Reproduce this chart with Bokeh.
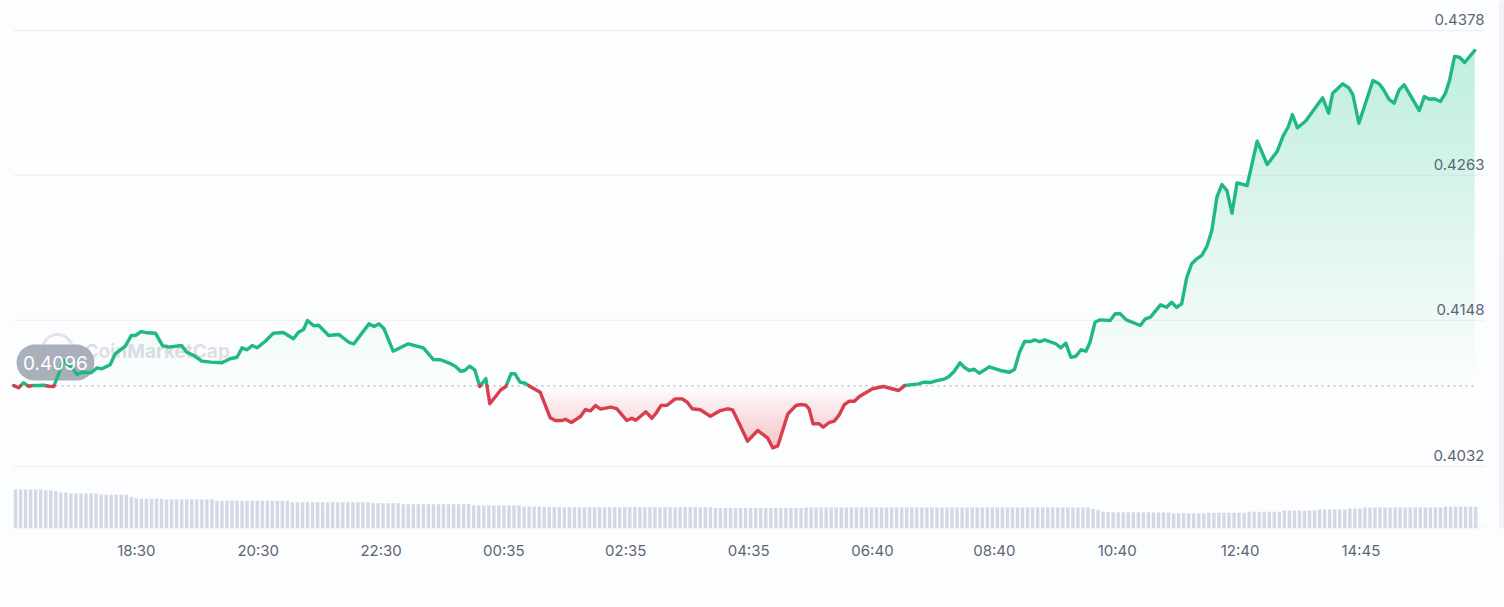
import numpy as np
from bokeh.embed import file_html
from bokeh.resources import INLINE
from bokeh.plotting import figure
from bokeh.models import Range1d, FixedTicker, BoxAnnotation
from bokeh.core.properties import value

# ---- data ----------------------------------------------------------------
minutes = [0,5,10,15,20,25,30,35,40,50,58,63,68,77,83,88,96,101,111,117,121,127,133,141,148,154,167,172,179,187,196,207,215,222,
           227,232,237,242,250,258,268,278,283,288,292,298,303,313,323,333,338,353,358,363,368,377,392,407,417,424,432,439,444,448,453,458,463,469,473,
           484,489,494,498,503,508,513,523,533,538,545,548,554,563,568,573,578,583,593,599,609,614,618,628,634,638,643,649,657,664,669,674,682,692,702,709,714,720,729,739,749,754,759,769,777,782,787,790,794,800,804,810,815,820,825,830,835,840,853,864,879,885,
           899,904,911,916,924,929,934,940,944,949,954,959,969,980,989,994,999,1004,1010,1014,1019,1024,1035,1040,1045,1050,1055,1060,1065,1069,1074,1079,1089,
           1094,1099,1105,1119,1124,1129,1139,1145,1150,1155,1160,1165,1170,1175,1180,1185,1190,1195,1200,1205,1210,1215,1225,1235,1245,1255,1261,1266,1270,1275,1283,1300,1306,1310,1320,1326,1330,1336,1350,1356,1360,1366,1371,1376,1381,1396,1401,1406,1411,1417,1422,1426,1431,1436,1441,1446,1451]
prices = [.40963,.40945,.40984,.40957,.40963,.40963,.40965,.40957,.40955,.41161,.41108,.41050,.41068,.41064,.41103,.41095,.41127,.41214,.41275,.41360,.41360,.41391,.41381,.41378,.41280,.41267,.41280,.41227,.41201,.41156,.41148,.41143,.41175,.41187,
          .41262,.41246,.41280,.41262,.41314,.41378,.41383,.41334,.41386,.41407,.41479,.41437,.41441,.41360,.41368,.41306,.41294,.41452,.41431,.41452,.41413,.41235,.41294,.41262,.41169,.41167,.41143,.41114,.41076,.41082,.41116,.41087,.40955,.41017,.40818,
          .40929,.40955,.41056,.41056,.40989,.40981,.40955,.40910,.40706,.40685,.40685,.40695,.40669,.40717,.40772,.40762,.40804,.40775,.40791,.40780,.40685,.40703,.40687,.40754,.40703,.40743,.40804,.40806,.40857,.40857,.40830,.40778,.40770,.40719,.40764,.40778,.40770,.40672,.40521,.40606,.40545,.40468,.40484,.40738,.40804,.40812,.40806,.40778,.40659,.40659,.40632,.40669,.40680,.40730,.40810,.40838,.40838,.40876,.40937,.40955,.40923,.40963,
          .40976,.40989,.40987,.41000,.41013,.41034,.41074,.41143,.41108,.41082,.41092,.41060,.41111,.41082,.41068,.41090,.41227,.41312,.41312,.41325,.41310,.41325,.41294,.41262,.41299,.41187,.41195,.41246,.41235,.41306,.41465,.41484,.41479,
          .41532,.41532,.41484,.41439,.41492,.41505,.41603,.41584,.41624,.41584,.41611,.41818,.41929,.41968,.41995,.42066,.42193,.42457,.42558,.42510,.42330,.42571,.42550,.42902,.42717,.42822,.42947,.43018,.43113,.43008,.43060,.43246,.43124,.43283,.43357,.43325,.43272,.43044,.43383,.43357,.43317,.43233,.43203,.43309,.43349,.43145,.43256,.43235,.43238,.43217,.43283,.43383,.43574,.43568,.43526,.43574,.43621]

base_price = 0.4096
base_label = "0.4096"
y_tick_prices = [0.4378, 0.4263, 0.4148, 0.4032]
y_tick_labels = ["0.4378", "0.4263", "0.4148", "0.4032"]
x_tick_minutes = [122, 243, 365, 487, 608, 730, 853, 974, 1096, 1218, 1338]
x_tick_labels = ["18:30", "20:30", "22:30", "00:35", "02:35", "04:35", "06:40", "08:40", "10:40", "12:40", "14:45"]

# relative volume, as runs of equal-looking bars (level, count)
volume_levels = [39, 38.3, 37.3, 36, 35, 33.7, 31.7, 30.3, 29.7, 29, 27.7, 26.3, 25.3, 24.3, 23, 22, 21.3, 20.5, 21,
                 19.5, 18.5, 17, 16.2, 16, 15.2, 15.8, 16.7, 18, 19, 20, 21, 21.8]
volume_counts = [6, 2, 1, 2, 6, 6, 1, 1, 5, 10, 15, 16, 6, 14, 10, 4, 34, 18, 57,
                 1, 1, 1, 9, 4, 7, 8, 7, 7, 6, 3, 16, 7]

# ---- styles ---------------------------------------------------------------
GREEN, RED = "#1fb981", "#d83f4e"
FILL_GREEN, FILL_RED = "#16c784", "#ea3943"
BAR = "#d3d9e4"
GRID = "#eff1f4"
TEXT = "#5d6675"
BG = "#fcfdfe"
FONT = value("Inter")

# frame covers the page from its top-left corner down to the volume baseline
x0, x1 = -12.91, 1480.6
PX = 7.936e-5              # price per pixel
y1 = 0.4032 + 466 * PX
y0 = 0.4032 - 62 * PX
FRAME_H = 528

p = figure(width=1504, height=607, frame_width=1504, frame_height=FRAME_H,
           output_backend="svg", toolbar_location=None,
           x_range=Range1d(x0, x1), y_range=Range1d(y0, y1),
           y_axis_location=None, min_border_left=0, min_border_right=0,
           min_border_top=0, min_border_bottom=607 - FRAME_H,
           background_fill_color=BG, border_fill_color=BG, outline_line_color=None)
p.grid.visible = False
p.extra_y_ranges = {"vol": Range1d(0, FRAME_H)}

ax = p.xaxis[0]
ax.ticker = FixedTicker(ticks=x_tick_minutes)
ax.major_label_overrides = dict(zip(x_tick_minutes, x_tick_labels))
ax.axis_line_color = None
ax.major_tick_line_color = None
ax.minor_tick_line_color = None
ax.major_label_text_color = TEXT
ax.major_label_text_font = "Inter"
ax.major_label_text_font_size = "15px"
ax.major_label_standoff = 6

# card edge at the right
p.add_layout(BoxAnnotation(left=1476.0, right=x1, top=y1, bottom=0.39558,
                           fill_color="#f1f3f7", fill_alpha=1, line_color="#e2e5ec",
                           line_width=2, border_radius=12))

# gridlines
grid_end = 1460.7
n = len(y_tick_prices)
p.segment([0] * n, y_tick_prices, [grid_end] * n, y_tick_prices, line_color=GRID, line_width=1.4)
p.segment([0], [y0 + PX * 0.6], [grid_end], [y0 + PX * 0.6], line_color=GRID, line_width=1.4)

# volume
vol = np.repeat(volume_levels, volume_counts)
p.vbar(x=2 + np.arange(len(vol)) * 5.0, top=vol, bottom=0, width=3.4, y_range_name="vol",
       fill_color=BAR, line_color=None)

# watermark
p.scatter([43.7], [0.41249], size=30, marker="circle", fill_color=None,
          line_color="#e1e4ea", line_width=3, level="underlay")
p.text([70.5], [0.41233], text=["CoinMarketCap"], text_font=FONT, text_font_style="bold",
       text_font_size="19px", text_color="#dcdfe6", text_baseline="middle", level="underlay")

# gradient fills: thin horizontal bands
t = np.asarray(minutes, float)
v = np.asarray(prices, float)
tt = np.arange(t[0], t[-1] + 0.25, 0.25)
vv = np.interp(tt, t, v)
STEP = 3 * PX
edge0 = y0 + round((base_price - y0) / PX) * PX
g_top = base_price + 335 * PX
lo = edge0
while lo < v.max():
    hi = lo + STEP
    a = min(0.27, 0.27 * ((lo + hi) / 2 - base_price) / (g_top - base_price))
    p.varea(tt, np.clip(vv, lo, hi), np.full_like(tt, lo), fill_color=FILL_GREEN, fill_alpha=float(a))
    lo = hi
r_bot = base_price - 62 * PX
hi = edge0
while hi > v.min():
    lo = hi - STEP
    a = min(0.30, 0.30 * (base_price - (lo + hi) / 2) / (base_price - r_bot))
    p.varea(tt, np.clip(vv, lo, hi), np.full_like(tt, hi), fill_color=FILL_RED, fill_alpha=float(a))
    hi = lo

# baseline
p.line([0, 1452], [base_price, base_price], line_color="#c6cad2", line_width=1.6, line_dash="2 4")

# pill under the line
p.add_layout(BoxAnnotation(left=3, right=80.4, top=0.41288, bottom=0.41002,
                           fill_color="#a6acb8", fill_alpha=0.96, line_color=None,
                           border_radius=18, level="underlay"))

# price line split at the baseline
ct, cv = [t[0]], [v[0]]
for i in range(1, len(t)):
    a, b = v[i - 1] - base_price, v[i] - base_price
    if a * b < 0:
        ct.append(t[i - 1] + (t[i] - t[i - 1]) * a / (a - b))
        cv.append(base_price)
    ct.append(t[i])
    cv.append(v[i])
ct, cv = np.array(ct), np.array(cv)
p.line(ct, np.where(cv >= base_price, cv, np.nan), line_color=GREEN, line_width=3.4,
       line_join="round", line_cap="round")
p.line(ct, np.where(cv <= base_price, cv, np.nan), line_color=RED, line_width=3.4,
       line_join="round", line_cap="round")

# texts
p.text([41.7], [0.41145], text=[base_label], text_font=FONT, text_font_size="19px",
       text_color="#ffffff", text_align="center", text_baseline="middle")
p.text([grid_end] * n, y_tick_prices, text=y_tick_labels, text_font=FONT, text_font_size="15px",
       text_color=TEXT, text_align="right", text_baseline="middle", y_offset=-11)

open("out.html", "w").write(file_html(p, INLINE))
